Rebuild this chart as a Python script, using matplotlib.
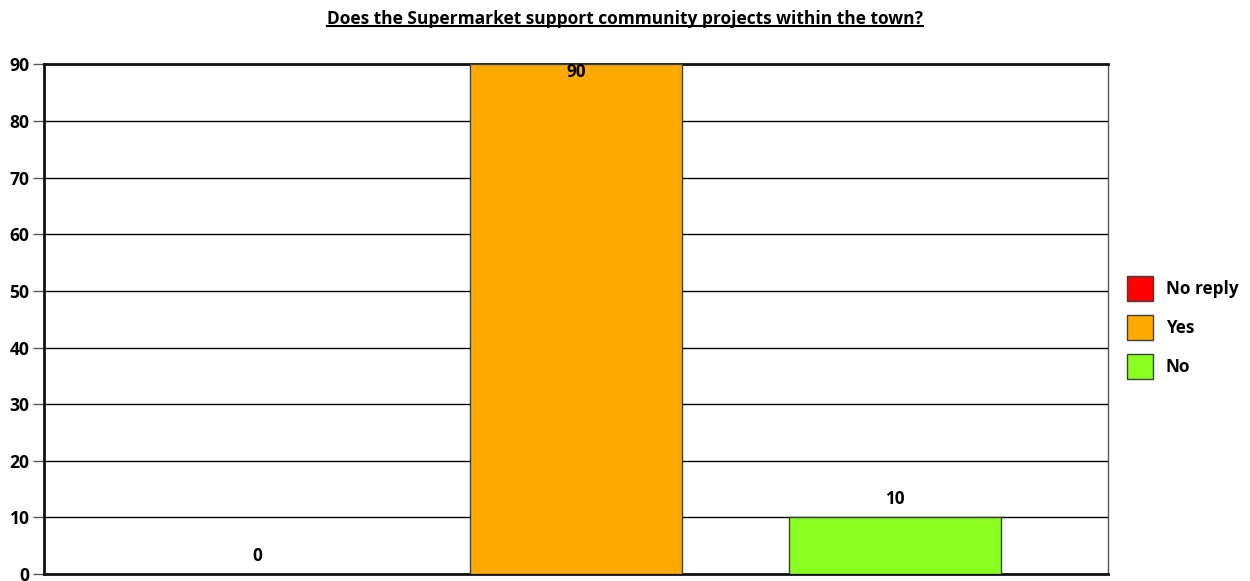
import matplotlib.pyplot as plt

# Survey answers
answers = ['No reply', 'Yes', 'No']
counts = [0, 90, 10]
colors = ['#ff0000', '#ffaa00', '#88ff1e']

title = 'Does the Supermarket support community projects within the town?'
y_ticks = list(range(0, 100, 10))

plt.rcParams['font.family'] = ['Open Sans', 'DejaVu Sans']
plt.rcParams['font.weight'] = 'bold'
label_size = 12.3

fig = plt.figure(figsize=(12.5, 5.81), dpi=100)
ax = fig.add_axes([0.0348, 0.0121, 0.8516, 0.8769])

bar_width = 0.665
positions = list(range(len(answers)))
bars = ax.bar(positions, counts, width=bar_width, color=colors,
              edgecolor='#404040', linewidth=1, zorder=3, label=answers)

ax.set_xlim(-0.671, 2.668)
ax.set_ylim(0, 90)
ax.set_yticks(y_ticks)
ax.set_xticks([])
ax.tick_params(axis='y', length=8, width=1, color='#555555', labelsize=12.6, pad=2)
for lbl in ax.get_yticklabels():
    lbl.set_fontweight('bold')

ax.grid(axis='y', color='black', linewidth=1, zorder=1)
ax.set_axisbelow(True)

for side in ['left', 'top', 'bottom']:
    ax.spines[side].set_linewidth(2)
    ax.spines[side].set_color('#111111')
ax.spines['right'].set_linewidth(1)
ax.spines['right'].set_color('#555555')

# value labels above bars, tucked inside when there is no room
for x, v in zip(positions, counts):
    if v >= 85:
        ax.annotate(f'{v}', (x, v), xytext=(0, 1), textcoords='offset points',
                    ha='center', va='top', fontsize=label_size, fontweight='bold', zorder=5)
    else:
        ax.annotate(f'{v}', (x, v), xytext=(0, 6.5), textcoords='offset points',
                    ha='center', va='bottom', fontsize=label_size, fontweight='bold', zorder=5)

t = fig.text(0.5, 0.967, title, ha='center', va='center', fontsize=12.5,
             fontweight='bold')
fig.canvas.draw()
bb = t.get_window_extent()
inv = fig.transFigure.inverted()
(x0, y0), (x1, y1) = inv.transform([[bb.x0, bb.y0], [bb.x1, bb.y1]])
fig.add_artist(plt.Line2D([x0, x1], [y0 + 0.004, y0 + 0.004], color='black', linewidth=1.5,
                          transform=fig.transFigure))

handles = [plt.Rectangle((0, 0), 1, 1, facecolor=c, edgecolor='#404040', linewidth=1)
           for c in colors]
fig.legend(handles, answers, loc='upper left', bbox_to_anchor=(0.9016, 0.525),
           frameon=False, handlelength=1.52, handleheight=1.87, labelspacing=0.82,
           handletextpad=0.75, borderaxespad=0, borderpad=0,
           prop={'weight': 'bold', 'size': label_size})

fig.savefig('out.png', dpi=100)
